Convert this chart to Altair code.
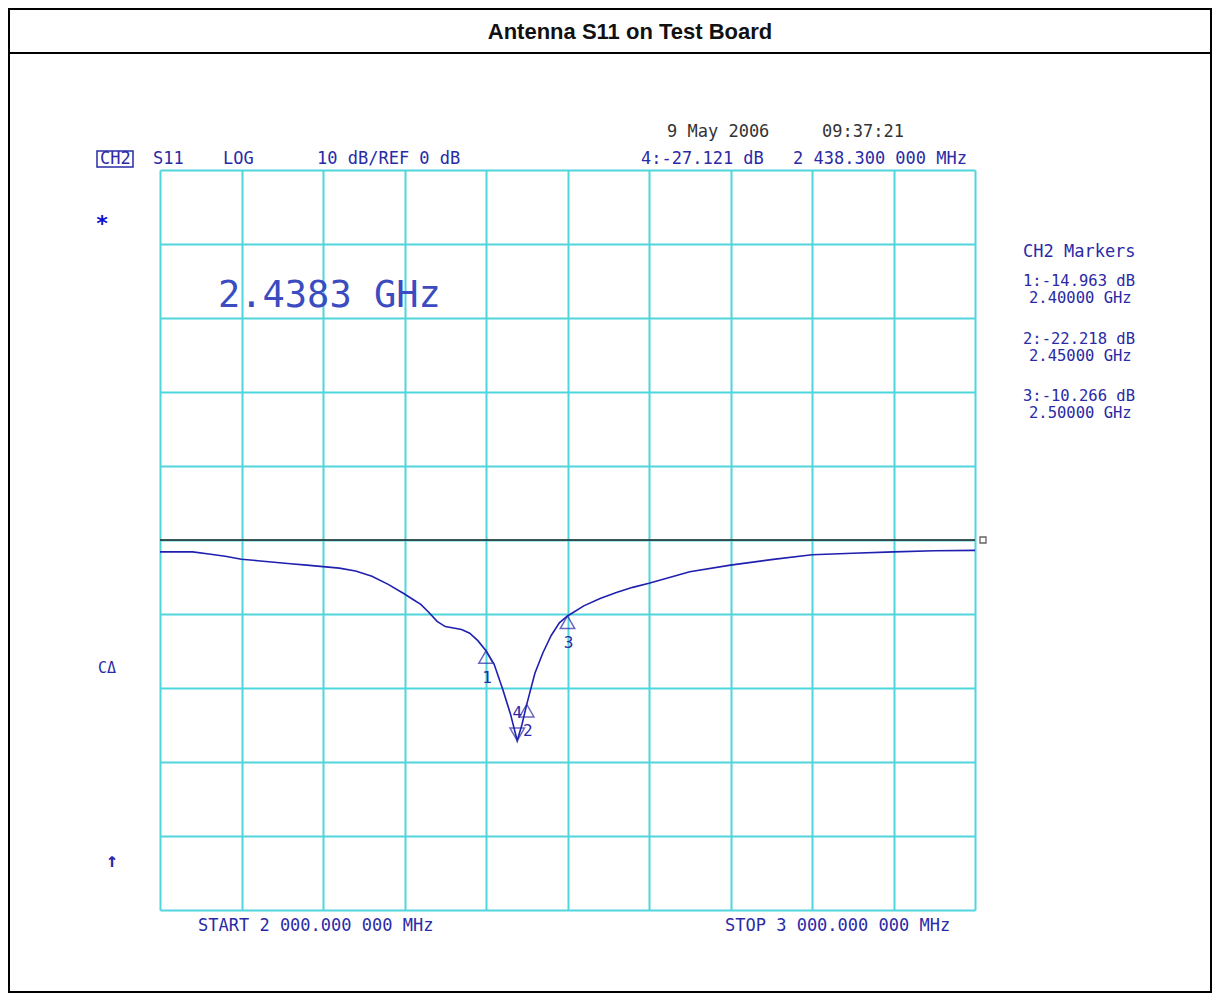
import altair as alt
import pandas as pd

# ---- data -------------------------------------------------------------
freq_mhz = [2000, 2020, 2040, 2060, 2080, 2100, 2120, 2140, 2160, 2180,
            2200, 2220, 2240, 2260, 2280, 2300, 2310, 2320, 2330, 2340,
            2350, 2360, 2370, 2380, 2390, 2400, 2410, 2420, 2430, 2438.3,
            2444, 2450, 2460, 2470, 2480, 2490, 2500, 2520, 2540, 2560,
            2580, 2600, 2650, 2700, 2750, 2800, 2850, 2900, 2950, 3000]
s11_db = [-1.6, -1.6, -1.6, -1.9, -2.2, -2.6, -2.8, -3.0, -3.2, -3.4,
          -3.6, -3.8, -4.2, -4.9, -6.0, -7.3, -8.0, -8.7, -9.8, -11.0,
          -11.7, -11.9, -12.1, -12.6, -13.6, -14.963, -16.8, -20.0, -23.5, -27.121,
          -25.0, -22.218, -18.0, -15.2, -12.9, -11.2, -10.266, -8.9, -7.9, -7.1,
          -6.4, -5.85, -4.3, -3.4, -2.65, -2.0, -1.8, -1.6, -1.45, -1.4]

marker_id = ["1", "2", "3", "4"]
marker_freq = [2400, 2450, 2500, 2438.3]
marker_db = [-14.963, -22.218, -10.266, -27.121]
marker_dir = ["up", "up", "up", "down"]

x_ticks = [2000, 2100, 2200, 2300, 2400, 2500, 2600, 2700, 2800, 2900, 3000]
y_ticks = [-50, -40, -30, -20, -10, 0, 10, 20, 30, 40, 50]
ref_level = [0]

title_text = "Antenna S11 on Test Board"

# ---- layout / style -----------------------------------------------------
X0, Y0 = 160, 170          # page position of plot area
W, H = 815, 740
TOTW, TOTH = 1204, 985
BLUE = "#2a2aa6"
TRACE = "#1f1fb0"
CYAN = "#4fd6dc"
MONO = "DejaVu Sans Mono"
FS = 17

trace = pd.DataFrame({"f": freq_mhz, "db": s11_db})
marks = pd.DataFrame({"id": marker_id, "f": marker_freq, "db": marker_db, "dir": marker_dir})
one = pd.DataFrame({"k": [0]})

xs = alt.Scale(domain=[2000, 3000], nice=False, zero=False)
ys = alt.Scale(domain=[-50, 50], nice=False, zero=False)

xax = alt.Axis(values=x_ticks, grid=True, labels=False, ticks=False, domain=False,
               title=None, gridColor=CYAN, gridWidth=2, gridOpacity=1)
yax = alt.Axis(values=y_ticks, grid=True, labels=False, ticks=False, domain=False,
               title=None, gridColor=CYAN, gridWidth=2, gridOpacity=1)

base = alt.Chart(trace).mark_line(color=TRACE, strokeWidth=1.6).encode(
    x=alt.X("f:Q", scale=xs, axis=xax),
    y=alt.Y("db:Q", scale=ys, axis=yax),
)

ref = alt.Chart(pd.DataFrame({"r": ref_level})).mark_rule(color="#222222", strokeWidth=1.6).encode(
    y=alt.Y("r:Q", scale=ys)
)
ref_end = alt.Chart(pd.DataFrame({"f": [3000], "r": ref_level})).mark_point(
    shape="square", size=36, filled=False, color="#222222", strokeWidth=1.3, xOffset=8
).encode(x=alt.X("f:Q", scale=xs), y=alt.Y("r:Q", scale=ys))

up = marks[marks["dir"] == "up"]
down = marks[marks["dir"] == "down"]

tri_up = alt.Chart(up).mark_point(shape="triangle-up", size=210, filled=False,
                                  color=BLUE, strokeWidth=1.5, yOffset=6.3).encode(
    x=alt.X("f:Q", scale=xs), y=alt.Y("db:Q", scale=ys))
tri_down = alt.Chart(down).mark_point(shape="triangle-down", size=210, filled=False,
                                      color=BLUE, strokeWidth=1.5, yOffset=-6.3).encode(
    x=alt.X("f:Q", scale=xs), y=alt.Y("db:Q", scale=ys))
lab_up = alt.Chart(up).mark_text(font=MONO, fontSize=16, color=BLUE, yOffset=27, xOffset=1).encode(
    x=alt.X("f:Q", scale=xs), y=alt.Y("db:Q", scale=ys), text="id:N")
lab_down = alt.Chart(down).mark_text(font=MONO, fontSize=16, color=BLUE, yOffset=-28).encode(
    x=alt.X("f:Q", scale=xs), y=alt.Y("db:Q", scale=ys), text="id:N")


def txt(s, px, py, size=FS, color=BLUE, font=MONO, weight="normal", align="left"):
    return alt.Chart(one).mark_text(text=s, fontSize=size, font=font, color=color,
                                    fontWeight=weight, align=align, baseline="middle").encode(
        x=alt.value(px - X0), y=alt.value(py - Y0))


m4 = marks[marks["id"] == "4"].iloc[0]
f4 = f"{m4['f']:.6f}"
f4_int, f4_frac = f4.split(".")
f4_str = f"{f4_int[0]} {f4_int[1:]}.{f4_frac[:3]} {f4_frac[3:]} MHz"

texts = [
    txt(title_text, 630, 32, size=22, color="#111111", font="Liberation Sans",
        weight="bold", align="center"),
    txt("CH2", 100, 159),
    txt("S11", 153, 159),
    txt("LOG", 223, 159),
    txt("10 dB/REF 0 dB", 317, 159),
    txt("9 May 2006", 667, 132, color="#333333"),
    txt("09:37:21", 822, 132, color="#333333"),
    txt(f"4:{m4['db']:.3f} dB", 641, 159),
    txt(f4_str, 793, 159),
    txt("*", 102, 224, size=22, color="#1010d0", weight="bold", align="center"),
    txt("2.4383 GHz", 218, 296, size=37, color="#3a4cc0"),
    txt("CH2 Markers", 1023, 252),
    txt("CΔ", 98, 668, size=15),
    txt("↑", 112, 861, size=20, weight="bold", align="center"),
    txt("START 2 000.000 000 MHz", 198, 926),
    txt("STOP 3 000.000 000 MHz", 725, 926),
]
ys_db = [281, 339, 396]
for i in range(3):
    texts.append(txt(f"{marker_id[i]}:{marker_db[i]:.3f} dB", 1023, ys_db[i], size=15.5))
    texts.append(txt(f"{marker_freq[i] / 1000:.5f} GHz", 1029, ys_db[i] + 17, size=15.5))

ch2_box = alt.Chart(one).mark_rect(filled=False, stroke=BLUE, strokeWidth=1.5).encode(
    x=alt.value(97 - X0), x2=alt.value(133 - X0), y=alt.value(151 - Y0), y2=alt.value(167 - Y0))

border = alt.Chart(one).mark_rect(filled=False, stroke="#000000", strokeWidth=2).encode(
    x=alt.value(-X0 + 8 + 1), x2=alt.value(TOTW - X0 + 8 - 1),
    y=alt.value(-Y0 + 8 + 1), y2=alt.value(TOTH - Y0 + 8 - 1))
title_rule = alt.Chart(one).mark_rule(color="#000000", strokeWidth=2).encode(
    x=alt.value(-X0 + 8 + 1), x2=alt.value(TOTW - X0 + 8 - 1), y=alt.value(53 - Y0))

chart = alt.layer(
    base, ref, ref_end, tri_up, tri_down, lab_up, lab_down, ch2_box, border, title_rule, *texts
).properties(
    width=W, height=H,
    padding={"left": X0 - 8, "top": Y0 - 8, "right": TOTW - (X0 - 8) - W, "bottom": TOTH - (Y0 - 8) - H},
    autosize=alt.AutoSizeParams(type="none"),
    background="white",
).configure_view(stroke=None)

chart.save("out.html", embed_options={"renderer": "svg", "actions": False})
